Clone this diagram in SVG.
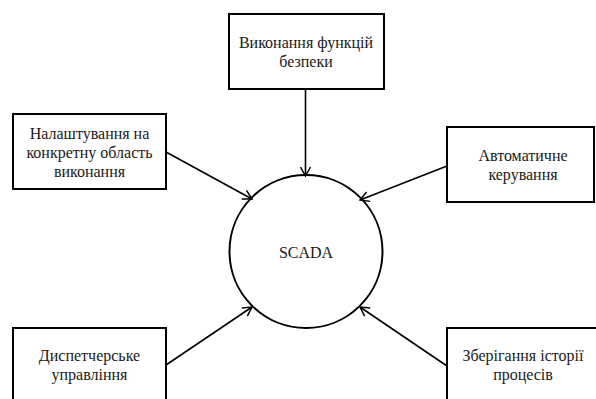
<svg xmlns="http://www.w3.org/2000/svg" width="596" height="399" viewBox="0 0 596 399">
<defs>
<marker id="arr" markerWidth="12" markerHeight="12" refX="10" refY="6" orient="auto" markerUnits="userSpaceOnUse">
<path d="M1,1 L10,6 L1,11" fill="none" stroke="#000" stroke-width="1.5"/>
</marker>
<style>
.box{fill:#fff;stroke:#000;stroke-width:2}
.t{font-family:'Liberation Serif','DejaVu Serif',serif;font-size:16px;fill:#1a1a1a;text-anchor:middle}
.c{fill:none;stroke:#000;stroke-width:1.6;marker-end:url(#arr)}
</style>
</defs>
<rect width="596" height="399" fill="#fff"/>
<g id="connectors">
<line class="c" x1="305.5" y1="89" x2="305.5" y2="176"/>
<line class="c" x1="166" y1="152" x2="252" y2="199"/>
<line class="c" x1="447" y1="166" x2="360" y2="200"/>
<line class="c" x1="166" y1="365" x2="252" y2="307"/>
<line class="c" x1="447" y1="366" x2="360" y2="307"/>
</g>
<g id="scada">
<circle cx="306" cy="251.5" r="76.5" fill="none" stroke="#000" stroke-width="2"/>
<text class="t" x="306" y="258">SCADA</text>
</g>
<g id="safety">
<rect class="box" x="229" y="14" width="155" height="75"/>
<text class="t" x="306" y="48">Виконання функцій</text>
<text class="t" x="306" y="67">безпеки</text>
</g>
<g id="tuning">
<rect class="box" x="13" y="114" width="153" height="75"/>
<text class="t" x="89.5" y="139">Налаштування на</text>
<text class="t" x="89.5" y="158">конкретну область</text>
<text class="t" x="89.5" y="177">виконання</text>
</g>
<g id="auto">
<rect class="box" x="447" y="127" width="147" height="75"/>
<text class="t" x="523" y="161">Автоматичне</text>
<text class="t" x="523" y="180">керування</text>
</g>
<g id="dispatch">
<rect class="box" x="13" y="328" width="153" height="80"/>
<text class="t" x="89.5" y="361">Диспетчерське</text>
<text class="t" x="89.5" y="380">управління</text>
</g>
<g id="history">
<rect class="box" x="447" y="328" width="160" height="80"/>
<text class="t" x="523" y="361">Зберігання історії</text>
<text class="t" x="523" y="380">процесів</text>
</g>
</svg>
